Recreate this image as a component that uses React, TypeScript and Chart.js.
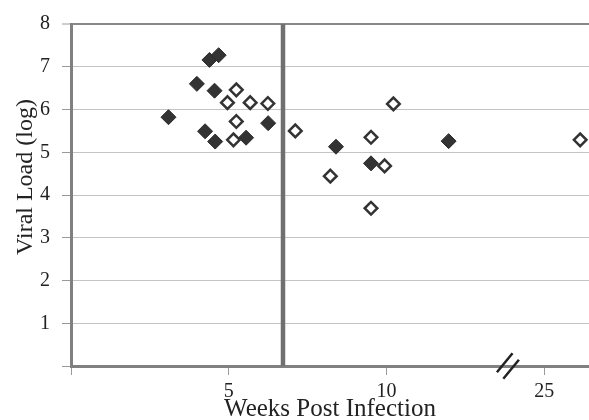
import React, { useEffect, useRef } from "react";
import { Chart, registerables } from "chart.js";

Chart.register(...registerables);

// Filled diamonds
const filledX = [3.09, 3.99, 4.39, 4.68, 4.55, 4.25, 4.57, 5.55, 6.25, 8.4, 9.51, 11.97];
const filledY = [5.82, 6.6, 7.16, 7.27, 6.44, 5.49, 5.25, 5.34, 5.68, 5.13, 4.74, 5.26];
// Hollow diamonds
const hollowX = [5.24, 4.96, 5.68, 6.24, 5.24, 5.15, 7.11, 8.22, 9.51, 10.22, 9.94, 9.51, 16.14];
const hollowY = [6.46, 6.16, 6.16, 6.14, 5.72, 5.29, 5.5, 4.44, 5.35, 6.13, 4.68, 3.69, 5.29];
// Reference line and axis break
const refLineX = 6.72;
const breakAtX = 13.85;
// Tick labels
const xTickValues = [0, 5, 10, 15];
const xTickLabels = ["", "5", "10", "25"];
const yTickValues = [0, 1, 2, 3, 4, 5, 6, 7, 8];
const yTickLabels = ["", "1", "2", "3", "4", "5", "6", "7", "8"];

const FONT = "'Liberation Serif', 'Times New Roman', serif";

const breakPlugin = {
  id: "axisBreak",
  afterDraw(chart: any) {
    const { ctx, scales } = chart;
    const xs = scales.x;
    const px = xs.getPixelForValue(breakAtX);
    const py = chart.chartArea.bottom;
    ctx.save();
    ctx.strokeStyle = "#222";
    ctx.lineWidth = 2.5;
    for (const k of [-1, 1]) {
      const cx = px + k * 3.2;
      const cy = py + k * 3.2;
      ctx.beginPath();
      ctx.moveTo(cx - 7.8, cy + 9.5);
      ctx.lineTo(cx + 7.8, cy - 9.5);
      ctx.stroke();
    }
    ctx.restore();
  },
};

export default function App() {
  const ref = useRef<HTMLCanvasElement>(null);
  useEffect(() => {
    if (!ref.current) return;
    const chart = new Chart(ref.current, {
      type: "scatter",
      data: {
        datasets: [
          {
            label: "hollow",
            data: hollowX.map((x, i) => ({ x, y: hollowY[i] })),
            pointStyle: "rectRot",
            pointRadius: 6.3,
            pointBorderWidth: 2.5,
            pointBorderColor: "#333",
            pointBackgroundColor: "#fff",
          },
          {
            label: "filled",
            data: filledX.map((x, i) => ({ x, y: filledY[i] })),
            pointStyle: "rectRot",
            pointRadius: 7.5,
            pointBorderWidth: 1,
            pointBorderColor: "#2a2a2a",
            pointBackgroundColor: "#333",
          },
          {
            label: "ref",
            data: [
              { x: refLineX, y: 0 },
              { x: refLineX, y: 8 },
            ],
            showLine: true,
            borderColor: "#707070",
            borderWidth: 4.5,
            pointRadius: 0,
          },
        ],
      },
      options: {
        animation: false,
        responsive: false,
        events: [],
        layout: { autoPadding: false, padding: { top: 24, left: 0, right: 0, bottom: 0 } },
        plugins: { legend: { display: false }, tooltip: { enabled: false } },
        scales: {
          x: {
            type: "linear",
            min: 0,
            max: 16.42,
            afterBuildTicks: (s: any) => {
              s.ticks = xTickValues.map((v) => ({ value: v }));
            },
            afterFit: (s: any) => {
              s.height = 64;
              s.paddingLeft = 0;
              s.paddingRight = 0;
            },
            ticks: {
              autoSkip: false,
              maxRotation: 0,
              padding: 5,
              color: "#222",
              font: { family: FONT, size: 20 },
              callback: (v: any) => {
                const i = xTickValues.indexOf(Number(v));
                return i >= 0 ? xTickLabels[i] : "";
              },
            },
            grid: {
              drawOnChartArea: false,
              drawTicks: true,
              tickLength: 9,
              tickColor: "#9a9a9a",
              tickWidth: 1,
            },
            border: { display: true, color: "#808080", width: 3 },
            title: {
              display: true,
              text: "Weeks Post Infection",
              color: "#222",
              font: { family: FONT, size: 25, lineHeight: 1 },
              padding: { top: 0, bottom: 8 },
            },
          },
          y: {
            type: "linear",
            min: 0,
            max: 8,
            afterBuildTicks: (s: any) => {
              s.ticks = yTickValues.map((v) => ({ value: v }));
            },
            afterFit: (s: any) => {
              s.width = 71;
              s.paddingTop = 0;
              s.paddingBottom = 0;
            },
            ticks: {
              padding: 12,
              color: "#222",
              font: { family: FONT, size: 20 },
              callback: (v: any) => {
                const i = yTickValues.indexOf(Number(v));
                return i >= 0 ? yTickLabels[i] : "";
              },
            },
            grid: {
              color: (c: any) => (c.tick && c.tick.value === 8 ? "#888" : "#c4c4c4"),
              lineWidth: (c: any) => (c.tick && c.tick.value === 8 ? 2 : 1),
              drawTicks: true,
              tickLength: 9,
              tickColor: "#9a9a9a",
              tickWidth: 1,
            },
            border: { display: true, color: "#808080", width: 3 },
            title: {
              display: true,
              text: "      Viral Load (log)",
              color: "#222",
              font: { family: FONT, size: 24, lineHeight: 1 },
              padding: { top: 14, bottom: 0 },
            },
          },
        },
      },
      plugins: [breakPlugin],
    });
    return () => chart.destroy();
  }, []);
  return (
    <div
      style={{
        position: "fixed",
        left: 0,
        top: 0,
        width: 589,
        height: 420,
        overflow: "hidden",
        background: "#fff",
      }}
    >
      <canvas ref={ref} width={589} height={430} style={{ display: "block" }} />
    </div>
  );
}
